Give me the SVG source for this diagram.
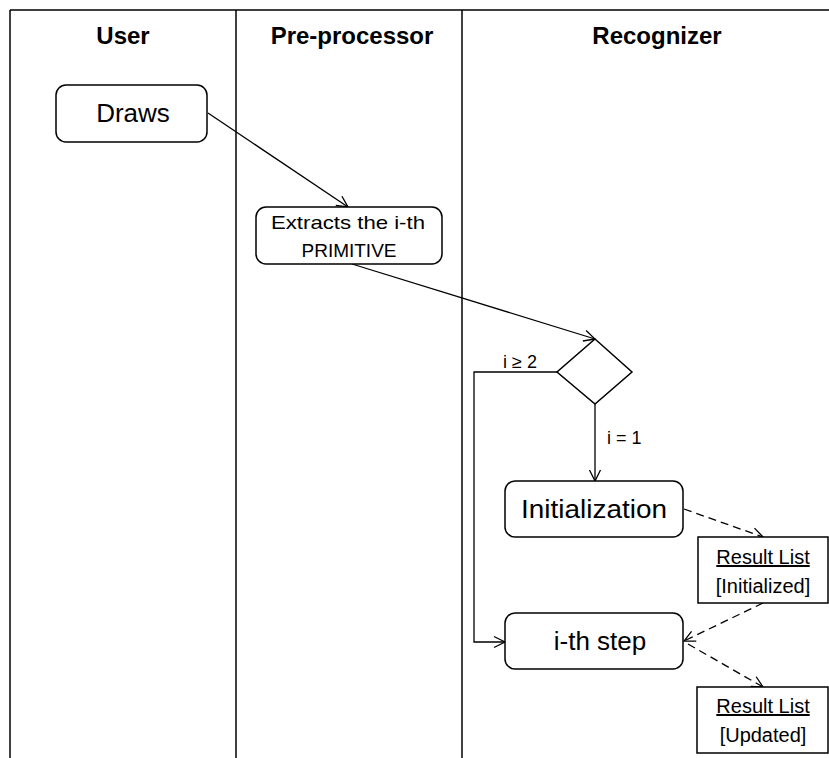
<svg xmlns="http://www.w3.org/2000/svg" width="829" height="758" viewBox="0 0 829 758">
<style>
text{font-family:"Liberation Sans",Arial,sans-serif;fill:#000}
.hdr{font-size:24px;font-weight:bold;text-anchor:middle}
.lane{stroke:#000;stroke-width:1.5;fill:none}
.box{fill:#fff;stroke:#000;stroke-width:1.5}
.big{font-size:26px;text-anchor:middle}
.mid{font-size:19px;text-anchor:middle}
.obj{font-size:20px;text-anchor:middle}
.lbl{font-size:18px}
.conn{stroke:#000;stroke-width:1.3;fill:none}
.dash{stroke-dasharray:8 5}
</style>
<defs>
<marker id="arr" markerWidth="14" markerHeight="14" refX="12" refY="7" orient="auto" markerUnits="userSpaceOnUse">
<polyline points="1,1.5 12,7 1,12.5" fill="none" stroke="#000" stroke-width="1.3"/>
</marker>
</defs>
<g id="lanes">
<line class="lane" x1="10" y1="10" x2="829" y2="10" stroke-width="2"/>
<line class="lane" x1="10" y1="10" x2="10" y2="758"/>
<line class="lane" x1="236" y1="10" x2="236" y2="758"/>
<line class="lane" x1="462" y1="10" x2="462" y2="758"/>
<text class="hdr" x="123" y="44">User</text>
<text class="hdr" x="352" y="44">Pre-processor</text>
<text class="hdr" x="657" y="44">Recognizer</text>
</g>
<g id="connectors">
<line class="conn" x1="208" y1="113" x2="348" y2="207" marker-end="url(#arr)"/>
<line class="conn" x1="352" y1="264" x2="595" y2="339" marker-end="url(#arr)"/>
<polyline class="conn" points="557,372 474,372 474,642 505,642" marker-end="url(#arr)"/>
<line class="conn" x1="595" y1="404" x2="595" y2="481" marker-end="url(#arr)"/>
<line class="conn dash" x1="684" y1="509" x2="763" y2="537" marker-end="url(#arr)"/>
<line class="conn dash" x1="763" y1="603" x2="684" y2="641" marker-end="url(#arr)"/>
<line class="conn dash" x1="688" y1="644" x2="763" y2="687" marker-end="url(#arr)"/>
<text class="lbl" x="503" y="368">i ≥ 2</text>
<text class="lbl" x="607" y="444">i = 1</text>
</g>
<g id="draws">
<rect class="box" x="56" y="85" width="151" height="57" rx="10"/>
<text class="big" x="133" y="122">Draws</text>
</g>
<g id="extracts">
<rect class="box" x="256" y="207" width="186" height="57" rx="10"/>
<text class="mid" x="348" y="229" textLength="154" lengthAdjust="spacingAndGlyphs">Extracts the i-th</text>
<text class="mid" x="349" y="257">PRIMITIVE</text>
</g>
<g id="decision">
<polygon class="box" points="595,339 632,372 595,404 557,372"/>
</g>
<g id="initialization">
<rect class="box" x="505" y="481" width="178" height="56" rx="10"/>
<text class="big" x="594" y="518" textLength="146" lengthAdjust="spacingAndGlyphs">Initialization</text>
</g>
<g id="result-initialized">
<rect class="box" x="698" y="537" width="130" height="66"/>
<text class="obj" x="763" y="564" text-decoration="underline">Result List</text>
<text class="obj" x="763" y="593">[Initialized]</text>
</g>
<g id="ith-step">
<rect class="box" x="505" y="613" width="178" height="56" rx="10"/>
<text class="big" x="600" y="650">i-th step</text>
</g>
<g id="result-updated">
<rect class="box" x="697" y="687" width="131" height="66"/>
<text class="obj" x="763" y="713" text-decoration="underline">Result List</text>
<text class="obj" x="763" y="742">[Updated]</text>
</g>
</svg>
